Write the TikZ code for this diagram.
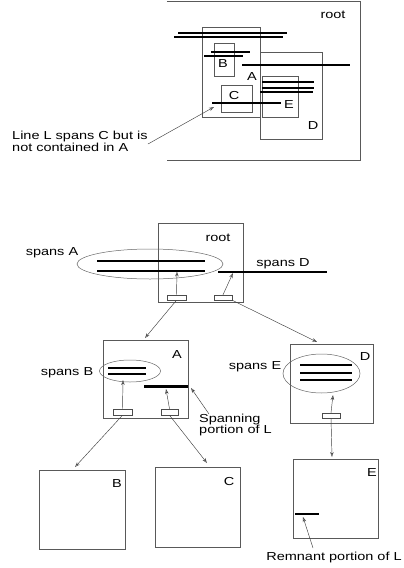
\documentclass[tikz,border=0pt]{standalone}
\usepackage{fontspec}
\setmainfont{Liberation Sans}[FakeStretch=1.25]
\usetikzlibrary{arrows.meta,shapes.geometric}
\begin{document}
\begin{tikzpicture}[x=1pt,y=-1pt,
  box/.style={draw=black!65,line width=0.5pt,inner sep=0pt,rectangle},
  ptr/.style={draw=black!70,line width=0.5pt,inner sep=0pt,rectangle},
  lbl/.style={inner sep=0pt,font=\fontsize{11.6}{10.5}\selectfont},
  seg/.style={line width=1.7pt,black},
  oval/.style={draw=black!60,line width=0.5pt,ellipse,inner sep=0pt},
  edge/.style={draw=black!65,line width=0.5pt},
  arr/.style={draw=black!75,line width=0.45pt,-{Stealth[open,length=5pt,width=3.5pt]}}]
\useasboundingbox (0,0) rectangle (404,568);
% ---------- top figure ----------
\node[inner sep=0pt,minimum width=193pt,minimum height=159pt] (troot) at (263.5,80.5) {};
\draw[edge] (troot.north west) -- (troot.north east) -- (troot.south east) -- (troot.south west);
\node[box,minimum width=58pt,minimum height=90pt] (tA) at (231,72) {};
\node[box,minimum width=20pt,minimum height=33pt] (tB) at (224,59.5) {};
\node[box,minimum width=31pt,minimum height=27pt] (tC) at (236.5,98.5) {};
\node[box,minimum width=62pt,minimum height=87pt] (tD) at (291,95.5) {};
\node[box,minimum width=36pt,minimum height=41pt] (tE) at (280,96.5) {};
\node[lbl] (troottxt) at (333,15) {root};
\node[lbl] (tAtxt) at (252,77) {A};
\node[lbl] (tBtxt) at (223,64) {B};
\node[lbl] (tCtxt) at (234,96) {C};
\node[lbl] (tDtxt) at (313,126) {D};
\node[lbl] (tEtxt) at (289,105) {E};
\draw[seg] (178,32.7) -- (287,32.7);
\draw[seg] (174,37.3) -- (283,37.3);
\draw[seg] (211,51.7) -- (250,51.7);
\draw[seg] (204,56) -- (243,56);
\draw[seg] (242,65.3) -- (350,65.3);
\draw[seg] (262,81.7) -- (314,81.7);
\draw[seg] (262,87.7) -- (314,87.7);
\draw[seg] (260,92.3) -- (313,92.3);
\draw[seg] (212,103.3) -- (281,103.3);
\coordinate (Lpt) at (214,107);
\node[lbl,align=left,anchor=west] (Ltxt) at (12,141) {Line L spans C but is\\not contained in A};
\coordinate (Lstart) at (148,144);
\draw[arr] (Lstart) -- (Lpt);
% ---------- bottom figure ----------
\node[box,minimum width=85pt,minimum height=79pt] (broot) at (200.5,262.5) {};
\node[lbl] (broottxt) at (218,238) {root};
\node[oval,minimum width=146pt,minimum height=30pt] (ovA) at (150,264) {};
\node[lbl] (spA) at (52,253) {spans A};
\draw[seg] (97,260.7) -- (205,260.7);
\draw[seg] (97,270.7) -- (205,270.7);
\draw[seg] (218,271.7) -- (327,271.7);
\node[lbl] (spD) at (283,264) {spans D};
\node[ptr,minimum width=19pt,minimum height=5pt] (p1) at (176.5,297.5) {};
\node[ptr,minimum width=18pt,minimum height=5pt] (p2) at (223,297.5) {};
\coordinate (p1t) at (177,271.5);
\coordinate (p2t) at (233,273);
\draw[arr] (p1.north) -- (p1t);
\draw[arr] (p2.north) -- (p2t);
% box A
\node[box,minimum width=85pt,minimum height=78pt] (bA) at (145.5,379) {};
\node[lbl] (bAtxt) at (177,355) {A};
\node[oval,minimum width=61pt,minimum height=22pt] (ovB) at (130,371) {};
\node[lbl] (spB) at (67,373) {spans B};
\draw[seg] (108,367.7) -- (146,367.7);
\draw[seg] (108,374.3) -- (146,374.3);
\draw[line width=2.6pt] (144,386.7) -- (188,386.7);
\node[ptr,minimum width=19pt,minimum height=6pt] (pa1) at (122.5,412) {};
\node[ptr,minimum width=17pt,minimum height=6pt] (pa2) at (169.5,412) {};
\coordinate (pa1t) at (123,380);
\coordinate (pa2t) at (166,389);
\draw[arr] (pa1.north) -- (pa1t);
\draw[arr] (pa2.north) -- (pa2t);
\node[lbl,align=left,anchor=west] (spantxt) at (199,425) {Spanning\\portion of L};
\coordinate (spanpt) at (191,388);
\draw[arr] (209,414) -- (spanpt);
% box D
\node[box,minimum width=83pt,minimum height=79pt] (bD) at (331.5,383.5) {};
\node[lbl] (bDtxt) at (365,357) {D};
\node[oval,minimum width=77pt,minimum height=39pt] (ovE) at (321.5,373.5) {};
\node[lbl] (spE) at (255,367) {spans E};
\draw[seg] (300,365) -- (352,365);
\draw[seg] (300,373.3) -- (352,373.3);
\draw[seg] (300,380) -- (352,380);
\node[ptr,minimum width=18pt,minimum height=5pt] (pd) at (331,415.5) {};
\coordinate (pdt) at (333,395);
\draw[arr] (pd.north) -- (pdt);
% level-2 boxes
\node[box,minimum width=86pt,minimum height=79pt] (bB) at (82,509.5) {};
\node[lbl] (bBtxt) at (117,484) {B};
\node[box,minimum width=85pt,minimum height=80pt] (bC) at (197.5,507) {};
\node[lbl] (bCtxt) at (229,482) {C};
\node[box,minimum width=85pt,minimum height=79pt] (bE) at (335.5,498.5) {};
\node[lbl] (bEtxt) at (372,473) {E};
\draw[line width=2pt] (295,514) -- (319,514);
\node[lbl] (remtxt) at (334,557) {Remnant portion of L};
\coordinate (rempt) at (303,517);
\draw[arr] (313,548) -- (rempt);
% tree links
\coordinate (toA) at (145,338);
\coordinate (toD) at (317,342);
\coordinate (toB) at (75,467);
\coordinate (toC) at (207,463);
\coordinate (toE) at (332,457);
\draw[arr] (p1.south) -- (toA);
\draw[arr] (p2.south east) -- (toD);
\draw[arr] (pa1.south) -- (toB);
\draw[arr] (pa2.south) -- (toC);
\draw[arr] (pd.south) -- (toE);
\end{tikzpicture}
\end{document}
